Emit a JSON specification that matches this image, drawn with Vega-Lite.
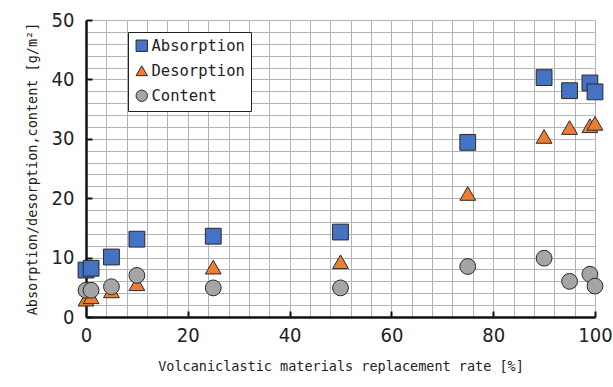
{
  "$schema": "https://vega.github.io/schema/vega-lite/v6.json",
  "width": 509,
  "height": 297,
  "autosize": {"type": "none"},
  "padding": {"left": 86, "top": 20, "right": 18, "bottom": 70},
  "background": "white",
  "data": {
    "values": [
      {"series": "Absorption", "rate": 0, "value": 7.9},
      {"series": "Absorption", "rate": 1, "value": 8.2},
      {"series": "Absorption", "rate": 5, "value": 10.1},
      {"series": "Absorption", "rate": 10, "value": 13.1},
      {"series": "Absorption", "rate": 25, "value": 13.6},
      {"series": "Absorption", "rate": 50, "value": 14.3},
      {"series": "Absorption", "rate": 75, "value": 29.4},
      {"series": "Absorption", "rate": 90, "value": 40.3},
      {"series": "Absorption", "rate": 95, "value": 38.1},
      {"series": "Absorption", "rate": 99, "value": 39.4},
      {"series": "Absorption", "rate": 100, "value": 37.9},
      {"series": "Desorption", "rate": 0, "value": 3.0},
      {"series": "Desorption", "rate": 1, "value": 3.4},
      {"series": "Desorption", "rate": 5, "value": 4.4},
      {"series": "Desorption", "rate": 10, "value": 5.6},
      {"series": "Desorption", "rate": 25, "value": 8.4},
      {"series": "Desorption", "rate": 50, "value": 9.3},
      {"series": "Desorption", "rate": 75, "value": 20.8},
      {"series": "Desorption", "rate": 90, "value": 30.4},
      {"series": "Desorption", "rate": 95, "value": 31.9},
      {"series": "Desorption", "rate": 99, "value": 32.2},
      {"series": "Desorption", "rate": 100, "value": 32.6},
      {"series": "Content", "rate": 0, "value": 4.5},
      {"series": "Content", "rate": 1, "value": 4.5},
      {"series": "Content", "rate": 5, "value": 5.1},
      {"series": "Content", "rate": 10, "value": 7.0},
      {"series": "Content", "rate": 25, "value": 4.9},
      {"series": "Content", "rate": 50, "value": 4.9},
      {"series": "Content", "rate": 75, "value": 8.5},
      {"series": "Content", "rate": 90, "value": 9.9},
      {"series": "Content", "rate": 95, "value": 6.0},
      {"series": "Content", "rate": 99, "value": 7.2},
      {"series": "Content", "rate": 100, "value": 5.2}
    ]
  },
  "mark": {"type": "point", "filled": true, "stroke": "#2a2a2a", "strokeWidth": 1, "opacity": 1, "size": 250},
  "encoding": {
    "x": {
      "field": "rate",
      "type": "quantitative",
      "scale": {"domain": [0, 100], "nice": false, "zero": true},
      "axis": {
        "title": "Volcaniclastic materials replacement rate [%]",
        "values": [0, 4, 8, 12, 16, 20, 24, 28, 32, 36, 40, 44, 48, 52, 56, 60, 64, 68, 72, 76, 80, 84, 88, 92, 96, 100],
        "labelExpr": "datum.value % 20 === 0 ? datum.label : ''",
        "labelOverlap": false,
        "labelFont": "DejaVu Sans Condensed, sans-serif",
        "labelFontSize": 20,
        "labelColor": "#222",
        "labelPadding": 14,
        "labelFlush": false,
        "ticks": true,
        "tickSize": -6,
        "tickWidth": 2,
        "tickColor": "#111",
        "tickOpacity": {"condition": {"test": "datum.value % 20 === 0 && datum.value > 0", "value": 1}, "value": 0},
        "domainColor": "#111",
        "domainWidth": 2.5,
        "grid": true,
        "gridColor": "#b4b4b4",
        "gridWidth": 1,
        "titleFont": "DejaVu Sans Mono",
        "titleFontSize": 13.5,
        "titleFontWeight": "normal",
        "titleColor": "#222",
        "titlePadding": 14
      }
    },
    "y": {
      "field": "value",
      "type": "quantitative",
      "scale": {"domain": [0, 50], "nice": false},
      "axis": {
        "title": "Absorption/desorption,content [g/m²]",
        "values": [0, 2, 4, 6, 8, 10, 12, 14, 16, 18, 20, 22, 24, 26, 28, 30, 32, 34, 36, 38, 40, 42, 44, 46, 48, 50],
        "labelExpr": "datum.value % 10 === 0 ? datum.label : ''",
        "labelOverlap": false,
        "labelFont": "DejaVu Sans Condensed, sans-serif",
        "labelFontSize": 20,
        "labelColor": "#222",
        "labelPadding": 18,
        "labelFlush": false,
        "ticks": true,
        "tickSize": -6,
        "tickWidth": 2,
        "tickColor": "#111",
        "tickOpacity": {"condition": {"test": "datum.value % 10 === 0", "value": 1}, "value": 0},
        "domainColor": "#111",
        "domainWidth": 2.5,
        "grid": true,
        "gridColor": "#b4b4b4",
        "gridWidth": 1,
        "titleFont": "DejaVu Sans Mono",
        "titleFontSize": 13.5,
        "titleFontWeight": "normal",
        "titleColor": "#222",
        "titlePadding": 12
      }
    },
    "color": {
      "field": "series",
      "type": "nominal",
      "scale": {"domain": ["Absorption", "Desorption", "Content"], "range": ["#4472C4", "#ED7D31", "#A5A5A5"]},
      "legend": {
        "title": null,
        "orient": "none",
        "legendX": 42,
        "legendY": 12,
        "fillColor": "white",
        "strokeColor": "#222",
        "padding": 6,
        "rowPadding": 8,
        "labelFont": "DejaVu Sans Mono",
        "labelFontSize": 15.5,
        "labelColor": "#222",
        "labelOffset": 2,
        "symbolSize": 130,
        "symbolStrokeColor": "#2a2a2a",
        "symbolStrokeWidth": 1
      }
    },
    "shape": {
      "field": "series",
      "type": "nominal",
      "scale": {"domain": ["Absorption", "Desorption", "Content"], "range": ["square", "triangle-up", "circle"]}
    }
  },
  "config": {"view": {"stroke": null}}
}
